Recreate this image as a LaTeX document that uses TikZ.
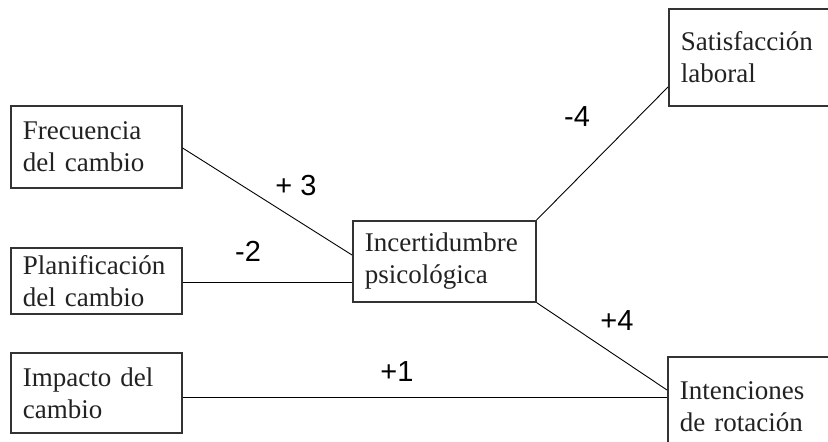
\documentclass[tikz,border=0pt]{standalone}
\usepackage{fontspec}
\setmainfont{Liberation Serif}
\newfontfamily\lblfam{Liberation Sans}
\usetikzlibrary{calc}
\definecolor{boxc}{HTML}{333333}
\definecolor{txtc}{HTML}{222222}
\tikzset{
  box/.style={draw=boxc, line width=1.6pt, rectangle, anchor=north west,
    inner xsep=12pt, inner ysep=0pt, align=left, text=txtc,
    font=\fontsize{27}{32}\selectfont},
  lbl/.style={font=\lblfam\fontsize{29}{34}\selectfont, text=black, inner sep=0pt},
  conn/.style={draw=black, line width=0.9pt}
}
\begin{document}
\begin{tikzpicture}[x=1pt,y=-1pt]
\useasboundingbox (0,0) rectangle (828,442);
\clip (0,0) rectangle (828,442);
\fill[white] (0,0) rectangle (828,442);
\node[box, text width=147pt, minimum height=82pt] (f) at (10,105) {Frecuencia\\del cambio};
\node[box, text width=147pt, minimum height=66pt] (p) at (10,247) {Planificación\\del cambio};
\node[box, text width=147pt, minimum height=80pt] (im) at (10,352) {Impacto del\\cambio};
\node[box, text width=159pt, minimum height=81pt] (u) at (352,220) {Incertidumbre\\psicológica};
\node[box, text width=176pt, minimum height=97pt] (s) at (668,8) {Satisfacción\\laboral};
\node[box, text width=176pt, minimum height=100pt] (r) at (667,356) {Intenciones\\de rotación};

\coordinate (fa) at ($(f.north east)+(0,43)$);
\coordinate (ua) at ($(u.north west)+(0,35)$);
\coordinate (pa) at ($(p.north east)+(0,35)$);
\coordinate (ia) at ($(im.north east)+(0,45)$);
\coordinate (sa) at ($(s.north west)+(0,79)$);
\coordinate (ra) at ($(r.north west)+(0,34)$);

\draw[conn] (fa) -- (ua);
\draw[conn] (pa) -- (pa -| u.west);
\draw[conn] (ia) -- (ia -| r.west);
\draw[conn] (u.north east) -- (sa);
\draw[conn] (u.south east) -- (ra);

\node[lbl] (l3) at (296,186) {+ 3};
\node[lbl] (l2) at (248,251) {-2};
\node[lbl] (l4) at (577,117) {-4};
\node[lbl] (l4b) at (617,321) {+4};
\node[lbl] (l1) at (397,372) {+1};
\end{tikzpicture}
\end{document}
